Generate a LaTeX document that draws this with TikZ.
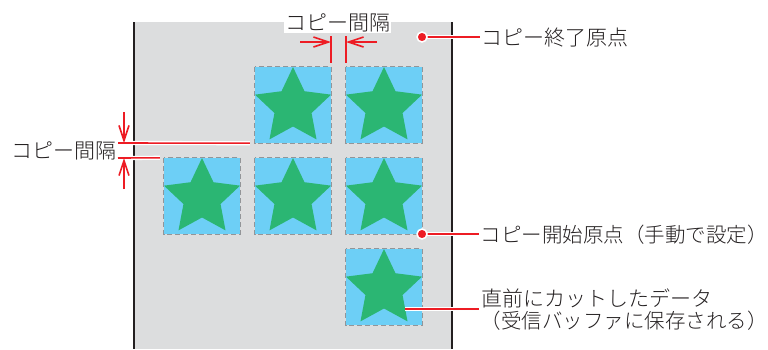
\documentclass[tikz,border=0pt]{standalone}
\usepackage{fontspec}
\setmainfont{Noto Sans CJK JP}[UprightFont={* Light}]
\usetikzlibrary{arrows.meta}
\definecolor{bggray}{HTML}{DCDDDE}
\definecolor{tileblue}{HTML}{6DCFF6}
\definecolor{stargreen}{HTML}{2BB673}
\definecolor{dashgray}{HTML}{939598}
\definecolor{markred}{HTML}{ED1C24}
\definecolor{inkc}{HTML}{231F20}
\tikzset{
  lbl/.style={font=\fontsize{21}{23}\selectfont, text=inkc, inner sep=0pt, text height=18.5pt, text depth=2.5pt},
  lbllong/.style={lbl, font=\fontsize{20.5}{23}\selectfont},
  tilebox/.style={rectangle, fill=tileblue, minimum size=76pt, inner sep=0pt},
  tileedge/.style={draw=dashgray, line width=1.3pt, dash pattern=on 5pt off 3pt},
  leader/.style={draw=markred, line width=1.6pt, preaction={draw=white, line width=4.2pt}},
  dimline/.style={draw=markred, line width=1.6pt},
  dimarrow/.style={draw=markred, line width=1.6pt, -{Straight Barb[length=15pt,width=10pt]}},
  reddot/.style={circle, fill=markred, draw=white, line width=1.5pt, minimum size=10pt, inner sep=0pt},
  sheetedge/.style={draw=inkc, line width=2pt}
}
\newcommand\mytile[3]{%
  \node[tilebox] (#1) at (#2+38,#3+38) {};
  \begin{scope}[shift={(#2+38,#3+40)}]
    \fill[stargreen] (-90:40) -- (-54:19.5) -- (-18:40) -- (18:19.5) -- (54:40) -- (90:19.5)
      -- (126:40) -- (162:19.5) -- (198:40) -- (234:19.5) -- cycle;
  \end{scope}
  \draw[tileedge] (#1.north west) rectangle (#1.south east);
}
\begin{document}
\begin{tikzpicture}[x=1pt,y=-1pt]
\useasboundingbox (0,0) rectangle (768,349);
% sheet
\fill[bggray] (134,22) rectangle (452,349);
% tiles
\mytile{t11}{255}{67}
\mytile{t12}{346}{67}
\mytile{t21}{164}{158}
\mytile{t22}{255}{158}
\mytile{t23}{346}{158}
\mytile{t33}{346}{249}
% sheet edges
\coordinate (sLt) at (134,22); \coordinate (sLb) at (134,349);
\coordinate (sRt) at (452,22); \coordinate (sRb) at (452,349);
\draw[sheetedge] (sLt) -- (sLb);
\draw[sheetedge] (sRt) -- (sRb);
% labels
\node[lbl, fill=white, inner xsep=1pt] (gapTop) at (337.5,22) {コピー間隔};
\node[lbl, anchor=west] (gapLeft) at (11,150) {コピー間隔};
\node[lbl, anchor=west] (endLbl) at (481,37) {コピー終了原点};
\node[lbllong, anchor=west] (startLbl) at (480.5,234) {コピー開始原点（手動で設定）};
\node[lbl, anchor=west] (cutA) at (481,298) {直前にカットしたデータ};
\node[lbllong, anchor=west] (cutB) at (480.5,320) {（受信バッファに保存される）};
% top dimension
\coordinate (tkAa) at (331,36); \coordinate (tkAb) at (331,63);
\coordinate (tkBa) at (346,36); \coordinate (tkBb) at (346,63);
\coordinate (arAs) at (300,42); \coordinate (arAe) at (331,42);
\coordinate (arBs) at (377,42); \coordinate (arBe) at (346,42);
\draw[dimline] (tkAa) -- (tkAb);
\draw[dimline] (tkBa) -- (tkBb);
\draw[dimarrow] (arAs) -- (arAe);
\draw[dimarrow] (arBs) -- (arBe);
% left dimension
\coordinate (lgA) at (118,143);
\coordinate (lgB) at (118,158);
\draw[leader, shorten >=5pt] (lgA) -- (t11.south west);
\draw[leader, shorten >=4pt] (lgB) -- (t21.north west);
\coordinate (vaS) at (124,112); \coordinate (vaE) at (124,143);
\coordinate (vbS) at (124,189); \coordinate (vbE) at (124,158);
\draw[dimarrow] (vaS) -- (vaE);
\draw[dimarrow] (vbS) -- (vbE);
% leaders to right labels
\coordinate (endO) at (422,37);
\coordinate (startO) at (422,234);
\coordinate (cutO) at (405,309);
\coordinate (cutE) at (479,309);
\draw[leader, shorten >=1pt] (endO) -- (endLbl.west);
\draw[leader, shorten >=2pt] (startO) -- (startLbl.west);
\draw[leader] (cutO) -- (cutE);
\node[reddot] (endDot) at (endO) {};
\node[reddot] (startDot) at (startO) {};
\end{tikzpicture}
\end{document}
